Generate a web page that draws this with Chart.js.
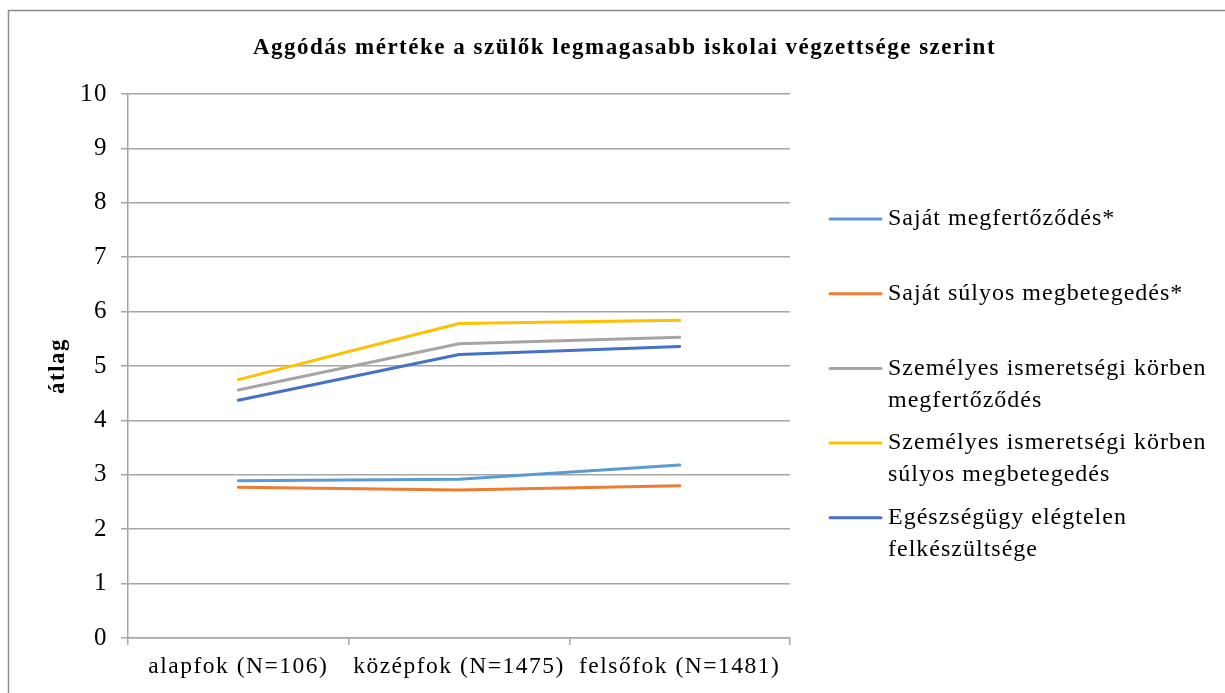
<!DOCTYPE html>
<html>
<head>
<meta charset="utf-8">
<script src="https://cdn.jsdelivr.net/npm/chart.js@4"></script>
<style>
  html, body { margin: 0; padding: 0; background: #fff; }
  #chart { display: block; }
</style>
</head>
<body>
<canvas id="chart" width="1225" height="693"></canvas>
<script>
// data
var categories = ['alapfok (N=106)', 'középfok (N=1475)', 'felsőfok (N=1481)'];
var sajatFertozes = [2.89, 2.92, 3.18];
var sajatSulyos = [2.77, 2.72, 2.80];
var ismerosFertozes = [4.56, 5.41, 5.53];
var ismerosSulyos = [4.75, 5.78, 5.84];
var egeszsegugy = [4.37, 5.21, 5.36];
var seriesNames = [
    ['Saját megfertőződés*'],
    ['Saját súlyos megbetegedés*'],
    ['Személyes ismeretségi körben', 'megfertőződés'],
    ['Személyes ismeretségi körben', 'súlyos megbetegedés'],
    ['Egészségügy elégtelen', 'felkészültsége']
];
var yTicks = [0, 1, 2, 3, 4, 5, 6, 7, 8, 9, 10];

var serif = "'Liberation Serif', 'Times New Roman', serif";
var gridColor = '#a6a6a6';
var spacing = '1.5px';

function makeSet(i, values, colour) {
    return {
        label: seriesNames[i].join(' '),
        data: values,
        borderColor: colour,
        backgroundColor: colour,
        borderWidth: 3,
        pointRadius: 0,
        tension: 0,
        borderCapStyle: 'round',
        borderJoinStyle: 'round'
    };
}

// frame + legend drawn by hand (legend has two-line labels)
var framePlugin = {
    id: 'frame',
    beforeUpdate: function(chart) {
        chart.ctx.letterSpacing = spacing;
    },
    beforeDraw: function(chart) {
        var ctx = chart.ctx;
        ctx.letterSpacing = spacing;
        ctx.save();
        ctx.fillStyle = '#fff';
        ctx.fillRect(0, 0, chart.width, chart.height);
        ctx.strokeStyle = '#8c8c8c';
        ctx.lineWidth = 1.5;
        ctx.strokeRect(8.5, 10.5, chart.width + 10, chart.height + 10);
        ctx.restore();
    },
    afterDraw: function(chart) {
        var ctx = chart.ctx;
        var sets = chart.data.datasets;
        ctx.save();
        ctx.letterSpacing = '1px';
        ctx.font = '24px ' + serif;
        ctx.fillStyle = '#000';
        ctx.textBaseline = 'middle';
        ctx.textAlign = 'left';
        for (var i = 0; i < sets.length; i++) {
            var y = 219 + i * 74.7;
            ctx.strokeStyle = sets[i].borderColor;
            ctx.lineWidth = 3;
            ctx.lineCap = 'round';
            ctx.beginPath();
            ctx.moveTo(830, y);
            ctx.lineTo(881, y);
            ctx.stroke();
            for (var k = 0; k < seriesNames[i].length; k++) {
                ctx.fillText(seriesNames[i][k], 888, y + k * 32);
            }
        }
        ctx.restore();
    }
};

var ctx = document.getElementById('chart').getContext('2d');
var chart = new Chart(ctx, {
    type: 'line',
    data: {
        labels: categories,
        datasets: [
            makeSet(0, sajatFertozes, '#5B9BD5'),
            makeSet(1, sajatSulyos, '#ED7D31'),
            makeSet(2, ismerosFertozes, '#A5A5A5'),
            makeSet(3, ismerosSulyos, '#FFC000'),
            makeSet(4, egeszsegugy, '#4472C4')
        ]
    },
    options: {
        responsive: false,
        animation: false,
        layout: { padding: { left: 24, right: 0, top: 24, bottom: 0 } },
        plugins: {
            legend: { display: false },
            tooltip: { enabled: false },
            title: {
                display: true,
                text: 'Aggódás mértéke a szülők legmagasabb iskolai végzettsége szerint',
                color: '#000',
                font: { family: serif, size: 23, weight: 'bold' },
                padding: { top: 10, bottom: 32.4 }
            }
        },
        scales: {
            x: {
                offset: true,
                grid: { display: true, drawOnChartArea: false, offset: true, tickLength: 7, color: gridColor, lineWidth: 1.5 },
                border: { display: true, color: gridColor, width: 1.5 },
                ticks: { color: '#000', font: { family: serif, size: 23.5 }, padding: 8, maxRotation: 0 },
                afterFit: function(s) { s.height = 55; }
            },
            y: {
                min: 0,
                max: 10,
                afterBuildTicks: function(s) { s.ticks = yTicks.map(function(v) { return { value: v }; }); },
                grid: { color: gridColor, lineWidth: 1.5, tickLength: 7 },
                border: { display: true, color: gridColor, width: 1.5 },
                ticks: { color: '#000', font: { family: serif, size: 25 }, padding: 13 },
                title: {
                    display: true,
                    text: 'átlag',
                    color: '#000',
                    font: { family: serif, size: 23, weight: 'bold' },
                    padding: { top: 20 }
                },
                afterFit: function(s) { s.width = 104; }
            },
            legendSpace: {
                type: 'linear',
                position: 'right',
                display: true,
                grid: { display: false },
                border: { display: false },
                ticks: { display: false },
                afterFit: function(s) { s.width = 435; }
            }
        }
    },
    plugins: [framePlugin]
});
</script>
</body>
</html>
